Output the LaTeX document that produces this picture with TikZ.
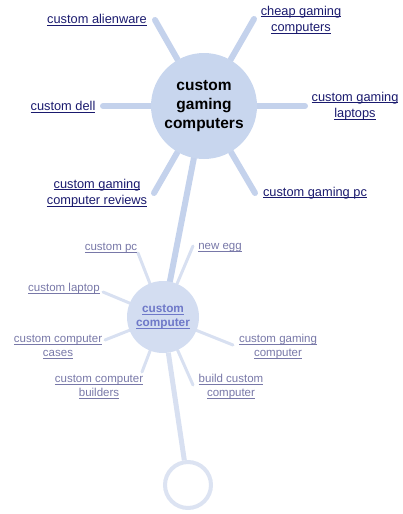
\documentclass[tikz,border=0pt]{standalone}
\usepackage{fontspec}
\setmainfont{Liberation Sans}
\usetikzlibrary{backgrounds}

\definecolor{hubblue}{RGB}{200,214,238}
\definecolor{subblue}{RGB}{211,221,241}
\definecolor{spokeblue}{RGB}{196,210,236}
\definecolor{twigblue}{RGB}{216,224,241}
\definecolor{ringblue}{RGB}{220,227,242}
\definecolor{linknavy}{RGB}{26,26,110}
\definecolor{linkgrey}{RGB}{120,120,168}
\definecolor{sublink}{RGB}{110,120,200}

\newsavebox\lnkbox
\newcommand{\lnk}[1]{\sbox\lnkbox{#1}\rlap{\rule[-1.6pt]{\wd\lnkbox}{0.6pt}}\usebox\lnkbox}

\begin{document}
\begin{tikzpicture}[x=1pt,y=-1pt,
    hub/.style={circle,fill=hubblue,minimum size=106pt,inner sep=0pt,align=center,
      font=\fontsize{15.5}{19}\selectfont\bfseries},
    subhub/.style={circle,fill=subblue,minimum size=72pt,inner sep=0pt,align=center,
      text=sublink,font=\fontsize{11.8}{14}\selectfont\bfseries},
    tail/.style={circle,draw=ringblue,line width=4pt,fill=white,minimum size=46pt,inner sep=0pt},
    biglink/.style={inner sep=0pt,align=center,text=linknavy,font=\fontsize{12.8}{16.5}\selectfont},
    smalllink/.style={inner sep=0pt,align=center,text=linkgrey,font=\fontsize{11.5}{14}\selectfont},
    spoke/.style={draw=spokeblue,line width=6pt,line cap=round},
    twig/.style={draw=twigblue,line width=3pt,line cap=round}]
  \useasboundingbox (0,0) rectangle (402,514);

  % hubs
  \node[hub] (main) at (204,106) {custom\\gaming\\computers};
  \node[subhub] (sub) at (163,317) {\lnk{custom}\\\lnk{computer}};
  \node[tail] (end) at (188,485) {};

  % outer ring of links
  \node[biglink] (alien) at (97,20) {\lnk{custom alienware}};
  \node[biglink] (cheap) at (301,20) {\lnk{cheap gaming}\\\lnk{computers}};
  \node[biglink] (dell) at (63,107) {\lnk{custom dell}};
  \node[biglink] (laptops) at (355,106) {\lnk{custom gaming}\\\lnk{laptops}};
  \node[biglink] (reviews) at (97,193) {\lnk{custom gaming}\\\lnk{computer reviews}};
  \node[biglink] (gamingpc) at (315,193) {\lnk{custom gaming pc}};

  % inner ring of links
  \node[smalllink] (cpc) at (111,248) {\lnk{custom pc}};
  \node[smalllink] (newegg) at (220,248) {\lnk{new egg}};
  \node[smalllink] (claptop) at (64,289) {\lnk{custom laptop}};
  \node[smalllink] (cases) at (58,347) {\lnk{custom computer}\\\lnk{cases}};
  \node[smalllink] (gcomp) at (278,347) {\lnk{custom gaming}\\\lnk{computer}};
  \node[smalllink] (builders) at (99,387) {\lnk{custom computer}\\\lnk{builders}};
  \node[smalllink] (buildcc) at (231,387) {\lnk{build custom}\\\lnk{computer}};

  % free ends of the spokes
  \coordinate (e1) at (155,20);
  \coordinate (e2) at (254,19);
  \coordinate (e3) at (103,106);
  \coordinate (e4) at (305,106);
  \coordinate (e5) at (154,193);
  \coordinate (e6) at (255,193);
  \coordinate (t1) at (138,253);
  \coordinate (t2) at (193,246);
  \coordinate (t3) at (103,292);
  \coordinate (t4) at (105,340);
  \coordinate (t5) at (233,345);
  \coordinate (t6) at (142,372);
  \coordinate (t7) at (193,385);

  \begin{scope}[on background layer]
    \foreach \e in {e1,e2,e3,e4,e5,e6}
      \draw[spoke] (main) -- (\e);
    \foreach \t in {t1,t2,t3,t4,t5,t6,t7}
      \draw[twig] (sub) -- (\t);
    \draw[spoke] (main) -- (sub);
    \draw[draw=twigblue,line width=5pt] (sub) -- (end);
  \end{scope}
\end{tikzpicture}
\end{document}
